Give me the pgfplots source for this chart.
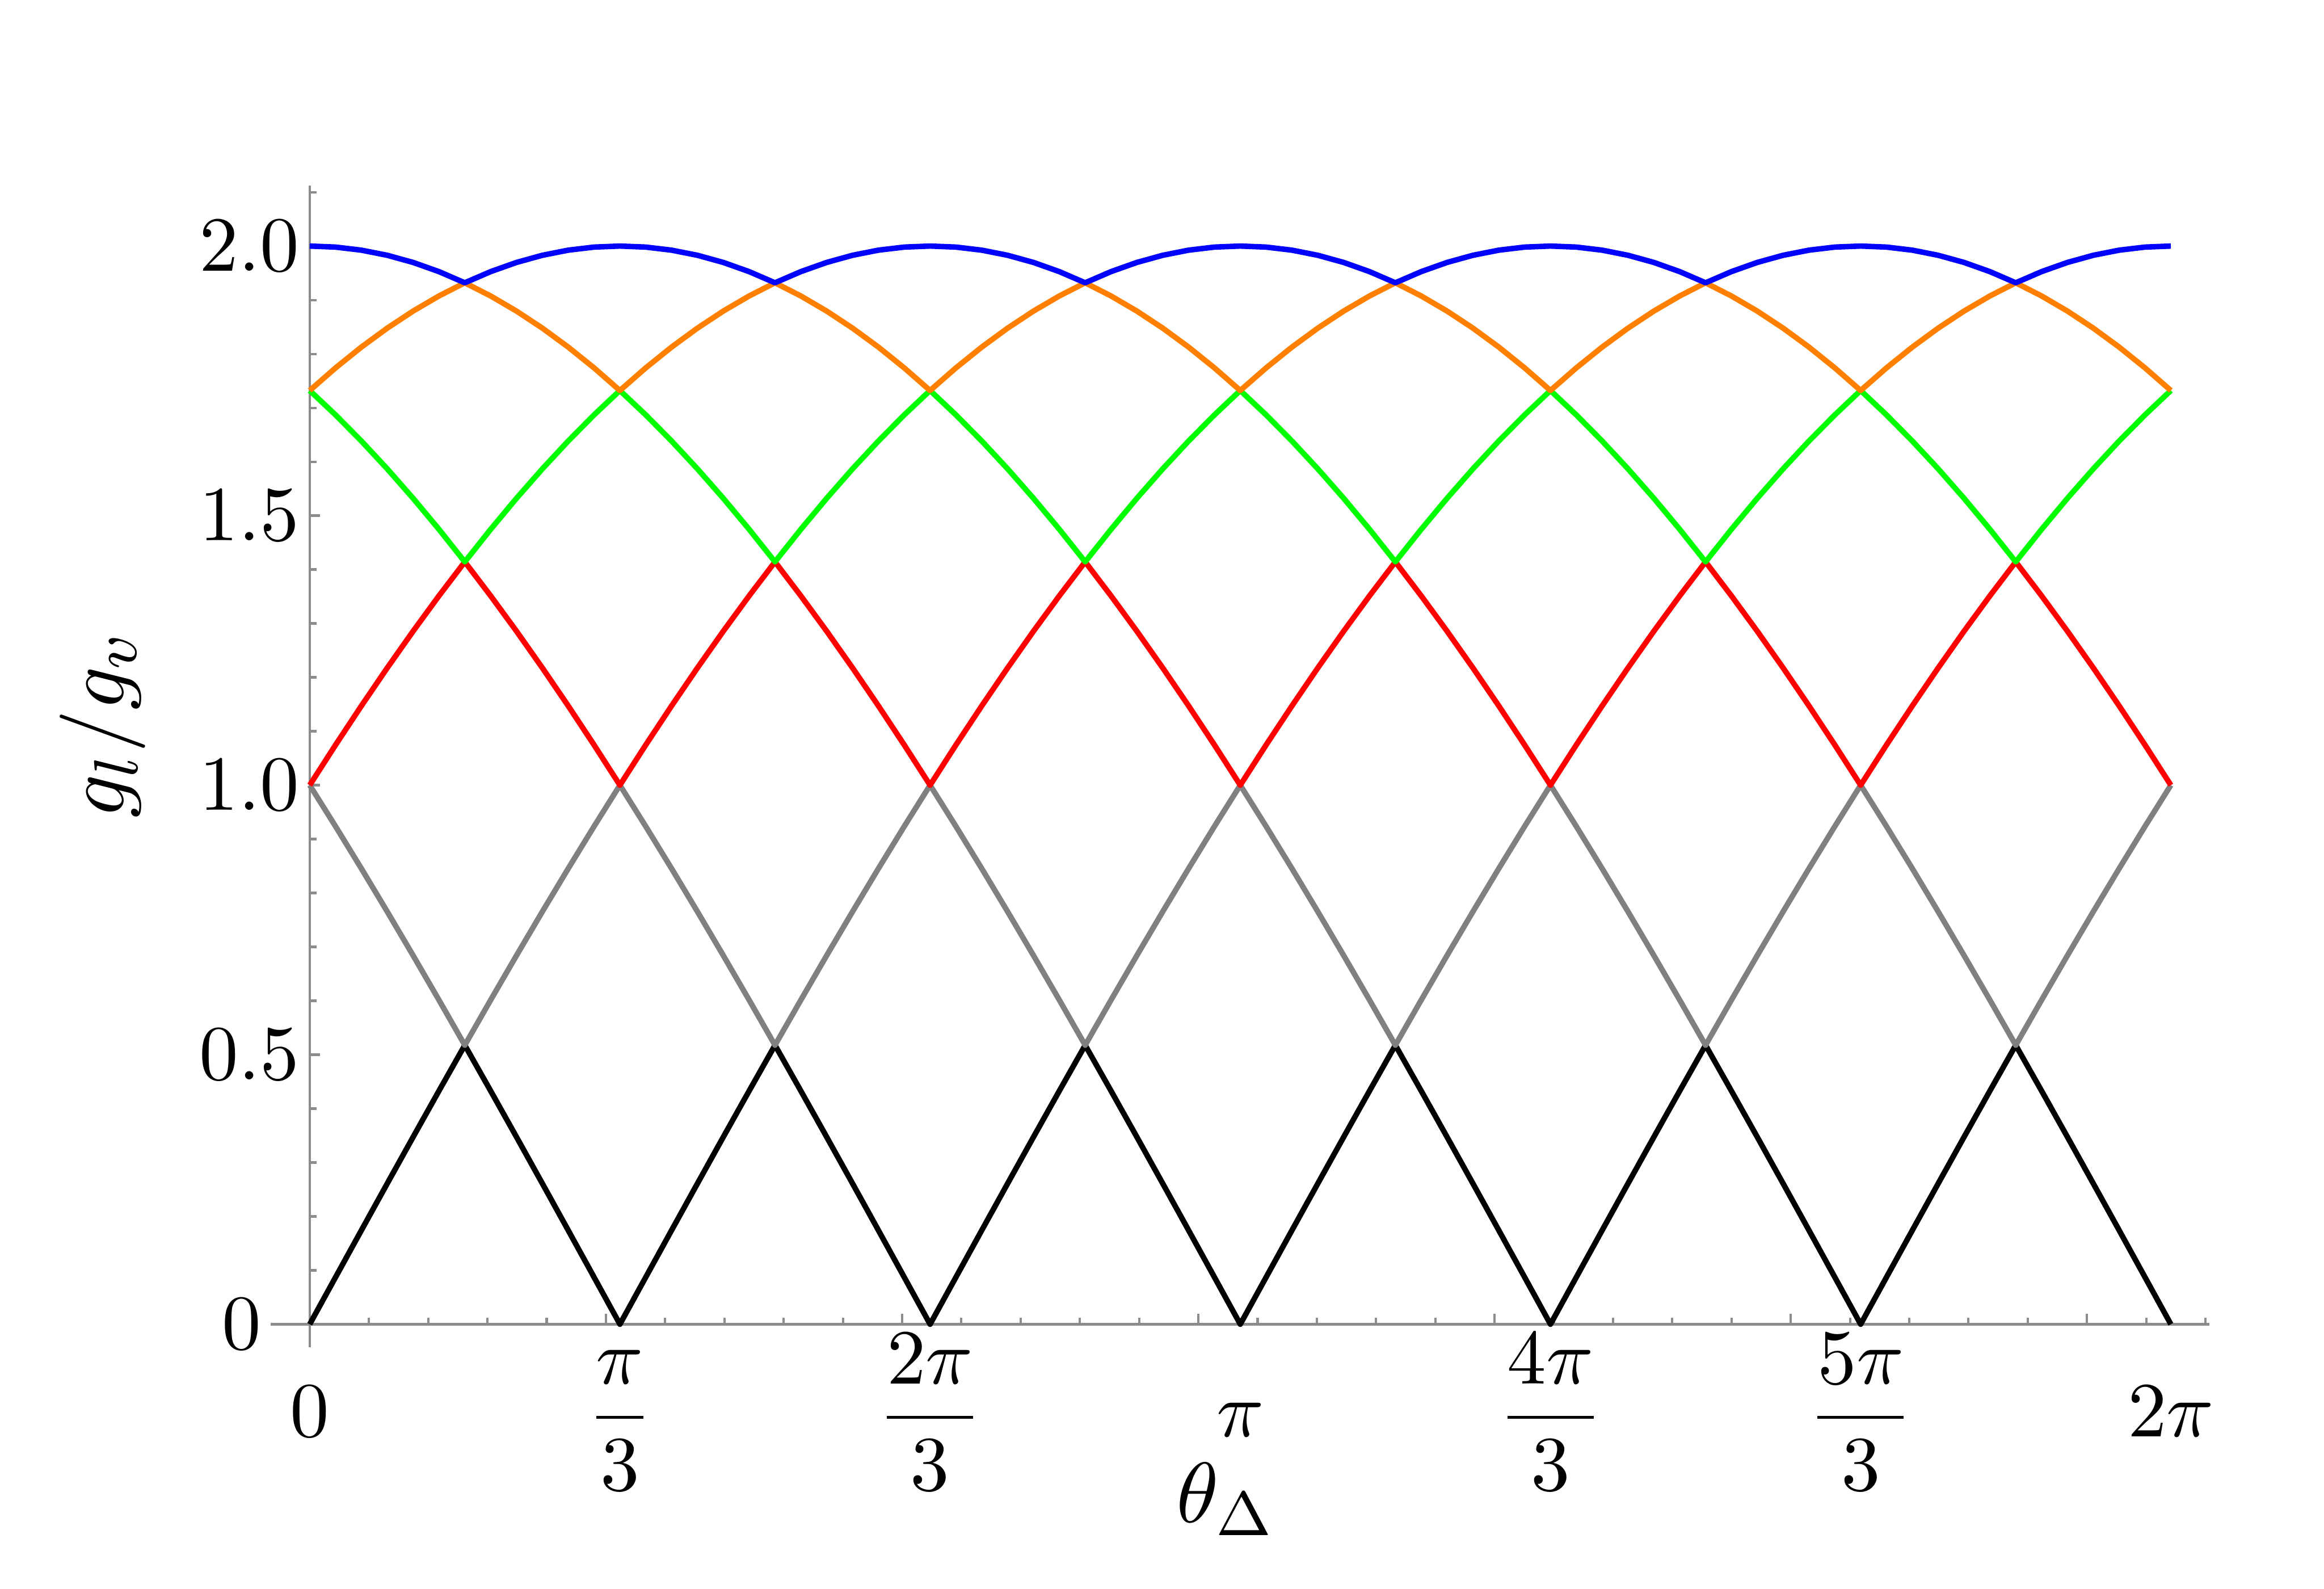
\documentclass[border=0pt]{standalone}
\usepackage{amsmath}
\usepackage{pgfplots}
\usepackage{pgfplotstable}
\pgfplotsset{compat=1.18}
\definecolor{mblue}{rgb}{0,0,1}
\definecolor{morange}{rgb}{1,0.5,0}
\definecolor{mgreen}{rgb}{0,1,0}
\definecolor{mred}{rgb}{1,0,0}
\definecolor{mgray}{rgb}{0.5,0.5,0.5}
\definecolor{axgray}{rgb}{0.55,0.55,0.55}
\pgfplotstableread{
x       k       gy      rd      gn      or      bl
0.00000 0       1       1       1.73205 1.73205 2
0.08727 0.08724 0.92350 1.07460 1.68678 1.77402 1.99810
0.17453 0.17431 0.84524 1.14715 1.63830 1.81262 1.99239
0.26180 0.26105 0.76537 1.21752 1.58671 1.84776 1.98289
0.34907 0.34730 0.68404 1.28558 1.53209 1.87939 1.96962
0.43633 0.43288 0.60141 1.35118 1.47455 1.90743 1.95259
0.52360 0.51764 0.51764 1.41421 1.41421 1.93185 1.93185
0.61087 0.43288 0.60141 1.35118 1.47455 1.90743 1.95259
0.69813 0.34730 0.68404 1.28558 1.53209 1.87939 1.96962
0.78540 0.26105 0.76537 1.21752 1.58671 1.84776 1.98289
0.87266 0.17431 0.84524 1.14715 1.63830 1.81262 1.99239
0.95993 0.08724 0.92350 1.07460 1.68678 1.77402 1.99810
1.04720 0       1       1       1.73205 1.73205 2
1.13446 0.08724 0.92350 1.07460 1.68678 1.77402 1.99810
1.22173 0.17431 0.84524 1.14715 1.63830 1.81262 1.99239
1.30900 0.26105 0.76537 1.21752 1.58671 1.84776 1.98289
1.39626 0.34730 0.68404 1.28558 1.53209 1.87939 1.96962
1.48353 0.43288 0.60141 1.35118 1.47455 1.90743 1.95259
1.57080 0.51764 0.51764 1.41421 1.41421 1.93185 1.93185
1.65806 0.43288 0.60141 1.35118 1.47455 1.90743 1.95259
1.74533 0.34730 0.68404 1.28558 1.53209 1.87939 1.96962
1.83260 0.26105 0.76537 1.21752 1.58671 1.84776 1.98289
1.91986 0.17431 0.84524 1.14715 1.63830 1.81262 1.99239
2.00713 0.08724 0.92350 1.07460 1.68678 1.77402 1.99810
2.09440 0       1       1       1.73205 1.73205 2
2.18166 0.08724 0.92350 1.07460 1.68678 1.77402 1.99810
2.26893 0.17431 0.84524 1.14715 1.63830 1.81262 1.99239
2.35619 0.26105 0.76537 1.21752 1.58671 1.84776 1.98289
2.44346 0.34730 0.68404 1.28558 1.53209 1.87939 1.96962
2.53073 0.43288 0.60141 1.35118 1.47455 1.90743 1.95259
2.61799 0.51764 0.51764 1.41421 1.41421 1.93185 1.93185
2.70526 0.43288 0.60141 1.35118 1.47455 1.90743 1.95259
2.79253 0.34730 0.68404 1.28558 1.53209 1.87939 1.96962
2.87979 0.26105 0.76537 1.21752 1.58671 1.84776 1.98289
2.96706 0.17431 0.84524 1.14715 1.63830 1.81262 1.99239
3.05433 0.08724 0.92350 1.07460 1.68678 1.77402 1.99810
3.14159 0       1       1       1.73205 1.73205 2
3.22886 0.08724 0.92350 1.07460 1.68678 1.77402 1.99810
3.31613 0.17431 0.84524 1.14715 1.63830 1.81262 1.99239
3.40339 0.26105 0.76537 1.21752 1.58671 1.84776 1.98289
3.49066 0.34730 0.68404 1.28558 1.53209 1.87939 1.96962
3.57792 0.43288 0.60141 1.35118 1.47455 1.90743 1.95259
3.66519 0.51764 0.51764 1.41421 1.41421 1.93185 1.93185
3.75246 0.43288 0.60141 1.35118 1.47455 1.90743 1.95259
3.83972 0.34730 0.68404 1.28558 1.53209 1.87939 1.96962
3.92699 0.26105 0.76537 1.21752 1.58671 1.84776 1.98289
4.01426 0.17431 0.84524 1.14715 1.63830 1.81262 1.99239
4.10152 0.08724 0.92350 1.07460 1.68678 1.77402 1.99810
4.18879 0       1       1       1.73205 1.73205 2
4.27606 0.08724 0.92350 1.07460 1.68678 1.77402 1.99810
4.36332 0.17431 0.84524 1.14715 1.63830 1.81262 1.99239
4.45059 0.26105 0.76537 1.21752 1.58671 1.84776 1.98289
4.53786 0.34730 0.68404 1.28558 1.53209 1.87939 1.96962
4.62512 0.43288 0.60141 1.35118 1.47455 1.90743 1.95259
4.71239 0.51764 0.51764 1.41421 1.41421 1.93185 1.93185
4.79966 0.43288 0.60141 1.35118 1.47455 1.90743 1.95259
4.88692 0.34730 0.68404 1.28558 1.53209 1.87939 1.96962
4.97419 0.26105 0.76537 1.21752 1.58671 1.84776 1.98289
5.06145 0.17431 0.84524 1.14715 1.63830 1.81262 1.99239
5.14872 0.08724 0.92350 1.07460 1.68678 1.77402 1.99810
5.23599 0       1       1       1.73205 1.73205 2
5.32325 0.08724 0.92350 1.07460 1.68678 1.77402 1.99810
5.41052 0.17431 0.84524 1.14715 1.63830 1.81262 1.99239
5.49779 0.26105 0.76537 1.21752 1.58671 1.84776 1.98289
5.58505 0.34730 0.68404 1.28558 1.53209 1.87939 1.96962
5.67232 0.43288 0.60141 1.35118 1.47455 1.90743 1.95259
5.75959 0.51764 0.51764 1.41421 1.41421 1.93185 1.93185
5.84685 0.43288 0.60141 1.35118 1.47455 1.90743 1.95259
5.93412 0.34730 0.68404 1.28558 1.53209 1.87939 1.96962
6.02139 0.26105 0.76537 1.21752 1.58671 1.84776 1.98289
6.10865 0.17431 0.84524 1.14715 1.63830 1.81262 1.99239
6.19592 0.08724 0.92350 1.07460 1.68678 1.77402 1.99810
6.28319 0       1       1       1.73205 1.73205 2
}\data
\begin{document}
\begin{tikzpicture}
\useasboundingbox (-34.73pt,-30.95pt) rectangle (263.2pt,172.7pt);
\begin{axis}[
  at={(0,0)}, anchor=south west,
  scale only axis, width=248.5pt, height=148.9pt,
  xmin=-0.131, xmax=6.413, ymin=-0.043, ymax=2.112,
  axis lines=middle,
  hide obscured x ticks=false, hide obscured y ticks=false,
  axis line style={-, draw=axgray, line width=0.3pt},
  every inner x axis line/.append style={-},
  every inner y axis line/.append style={-},
  tick style={draw=axgray, line width=0.3pt},
  tick align=inside,
  major tick length=1.35pt, minor tick length=0.85pt,
  xtick={1,2,3,4,5,6}, xticklabels={},
  minor xtick={0.2,0.4,0.6,0.8,1.2,1.4,1.6,1.8,2.2,2.4,2.6,2.8,3.2,3.4,3.6,3.8,4.2,4.4,4.6,4.8,5.2,5.4,5.6,5.8,6.2,6.4},
  extra x ticks={0,1.04720,2.09440,3.14159,4.18879,5.23599,6.28319},
  extra x tick labels={$0$,$\dfrac{\pi}{3}$,$\dfrac{2\pi}{3}$,$\pi$,$\dfrac{4\pi}{3}$,$\dfrac{5\pi}{3}$,$2\pi$},
  extra x tick style={major tick length=0pt},
  xticklabel style={anchor=base, inner sep=0pt, yshift=-14.44pt},
  ytick={0,0.5,1,1.5,2},
  yticklabels={$0\kern4.9pt$,$0.5$,$1.0$,$1.5$,$2.0$},
  minor ytick={0.1,0.2,0.3,0.4,0.6,0.7,0.8,0.9,1.1,1.2,1.3,1.4,1.6,1.7,1.8,1.9,2.1},
  yticklabel style={anchor=east, inner sep=0pt, xshift=-1.14pt},
  xlabel={$\theta_\Delta$}, ylabel={$g_l/g_v$},
  every axis x label/.style={at={(axis cs:2.92,0)}, anchor=base west, inner sep=0pt, yshift=-25.4pt, font=\fontsize{11.4}{13}\selectfont},
  every axis y label/.style={at={(axis cs:-0.628,0.936)}, anchor=base west, inner sep=0pt, rotate=90, font=\fontsize{11.4}{13}\selectfont},
  every axis plot/.append style={line width=0.7pt, line join=round},
]
\addplot[black, no markers] table[x=x, y=k] {\data};
\addplot[mgray, no markers] table[x=x, y=gy] {\data};
\addplot[mred, no markers] table[x=x, y=rd] {\data};
\addplot[mgreen, no markers] table[x=x, y=gn] {\data};
\addplot[morange, no markers] table[x=x, y=or] {\data};
\addplot[mblue, no markers] table[x=x, y=bl] {\data};
\end{axis}
\end{tikzpicture}
\end{document}
